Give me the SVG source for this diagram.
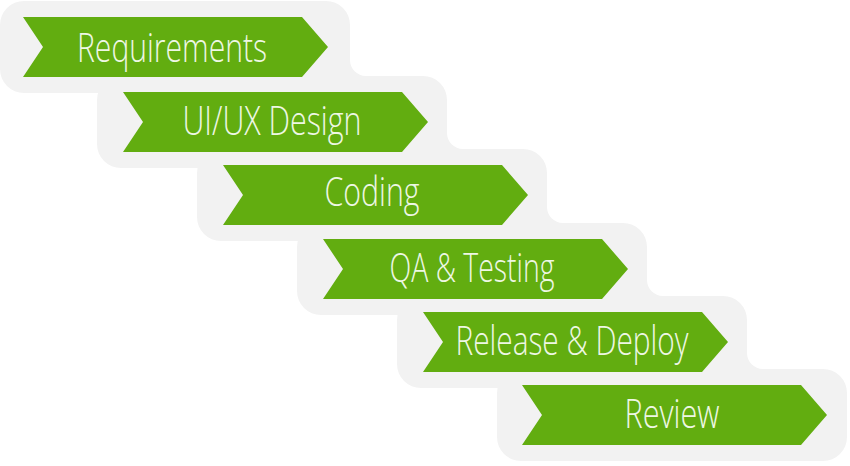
<svg xmlns="http://www.w3.org/2000/svg" width="850" height="466" viewBox="0 0 850 466">
<style>
.bg{fill:#f2f2f2}
.ar{fill:#62ad10}
.t{font-family:"Open Sans","Liberation Sans",sans-serif;font-size:40px;font-weight:300;fill:#eef7e4;text-anchor:middle}
</style>
<defs>
<path id="chev" d="M0,0 H279 L305,30 L279,60 H0 L20,30 Z"/>
<path id="fillet" d="M-4,-16 H0 A16,16 0 0 0 16,0 V1 H-4 Z"/>
<path id="fillet2" d="M0,4 V0 A16,16 0 0 0 -16,-16 H0 Z"/>
</defs>
<rect width="850" height="466" fill="#ffffff"/>
<g id="backgrounds">
<rect class="bg" x="0" y="1" width="350" height="92" rx="24"/>
<rect class="bg" x="97" y="76" width="350" height="92" rx="24"/>
<rect class="bg" x="197" y="149" width="350" height="92" rx="24"/>
<rect class="bg" x="297" y="223" width="350" height="92" rx="24"/>
<rect class="bg" x="397" y="296" width="350" height="92" rx="24"/>
<rect class="bg" x="497" y="369" width="350" height="92" rx="24"/>
<use href="#fillet" class="bg" x="350" y="76"/>
<use href="#fillet" class="bg" x="447" y="149"/>
<use href="#fillet" class="bg" x="547" y="223"/>
<use href="#fillet" class="bg" x="647" y="296"/>
<use href="#fillet" class="bg" x="747" y="369"/>
</g>
<g id="connectors"></g>
<g id="node-requirements">
<use href="#chev" class="ar" x="23" y="17"/>
<text class="t" x="172" y="62" textLength="190" lengthAdjust="spacingAndGlyphs">Requirements</text>
</g>
<g id="node-uiux">
<use href="#chev" class="ar" x="123" y="92"/>
<text class="t" x="272" y="135" textLength="179" lengthAdjust="spacingAndGlyphs">UI/UX Design</text>
</g>
<g id="node-coding">
<use href="#chev" class="ar" x="223" y="165"/>
<text class="t" x="372" y="206" textLength="95" lengthAdjust="spacingAndGlyphs">Coding</text>
</g>
<g id="node-qa">
<use href="#chev" class="ar" x="323" y="239"/>
<text class="t" x="472" y="282" textLength="165" lengthAdjust="spacingAndGlyphs">QA &amp; Testing</text>
</g>
<g id="node-release">
<use href="#chev" class="ar" x="423" y="312"/>
<text class="t" x="572" y="355" textLength="233" lengthAdjust="spacingAndGlyphs">Release &amp; Deploy</text>
</g>
<g id="node-review">
<use href="#chev" class="ar" x="522" y="385"/>
<text class="t" x="672" y="428" textLength="95" lengthAdjust="spacingAndGlyphs">Review</text>
</g>
</svg>
